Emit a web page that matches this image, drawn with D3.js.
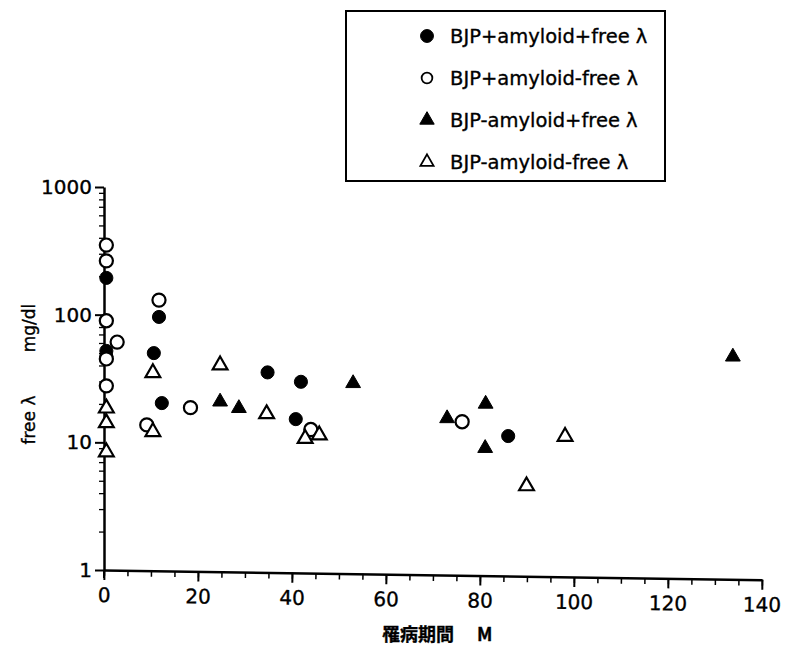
<!DOCTYPE html>
<html>
<head>
<meta charset="utf-8">
<script src="https://cdn.jsdelivr.net/npm/d3@7"></script>
<style>
  body { margin: 0; background: #fff; }
  text { font-family: "DejaVu Sans", "Liberation Sans", sans-serif; fill: #000; stroke: #000; stroke-width: 0.35px; }
</style>
</head>
<body>
<svg id="chart" width="789" height="650"></svg>
<script>
// series: x = 罹病期間 (M), y = free λ (mg/dl)
const seriesNames = ["BJP+amyloid+free λ", "BJP+amyloid-free λ", "BJP-amyloid+free λ", "BJP-amyloid-free λ"];

const fcX = [0.5, 0.5, 0.5, 11.7, 10.6, 12.3, 34.8, 41.9, 40.8, 86];
const fcY = [194, 52, 47, 96, 50, 20.3, 35.3, 29.8, 15.2, 11.2];

const ocX = [0.5, 0.5, 0.5, 2.8, 0.5, 0.5, 11.7, 9.1, 18.4, 44, 76.2];
const ocY = [351, 264, 89.6, 61, 45, 27.7, 130, 13.7, 18.7, 12.6, 14.5];

const ftX = [24.7, 28.7, 53, 73, 81.2, 81.1, 133.8];
const ftY = [20.8, 18.5, 29, 15.4, 20, 9.0, 46.8];

const otX = [0.5, 0.5, 0.5, 10.4, 10.4, 24.7, 34.6, 42.8, 45.8, 89.9, 98.1];
const otY = [18.5, 14.2, 8.4, 35, 12.1, 40.3, 16.7, 10.7, 11.4, 4.55, 11.1];

const xMajor = [0, 20, 40, 60, 80, 100, 120, 140];
const yMajor = [1, 10, 100, 1000];

const svg = d3.select("#chart");

const x = d3.scaleLinear().domain([0, 140]).range([104, 762]);
const y = d3.scaleLog().domain([1, 1000]).range([570, 187]);

// minor ticks
const xMinor = d3.range(0, 141, 5);
const yMinor = [];
[1, 10, 100].forEach(p => { for (let k = 2; k <= 9; k++) yMinor.push(p * k); });

// the printed x axis runs slightly downhill
const xTilt = `translate(0,${y(1)}) rotate(0.85,${x(0)},0)`;

svg.append("g")
  .attr("transform", xTilt)
  .call(d3.axisBottom(x).tickValues(xMinor).tickSize(6).tickFormat(""))
  .call(g => g.select(".domain").remove())
  .selectAll("line").attr("stroke-width", 1.5);

svg.append("g")
  .attr("transform", `translate(${x(0)},0)`)
  .call(d3.axisLeft(y).tickValues(yMinor).tickSize(5).tickFormat(""))
  .call(g => g.select(".domain").remove())
  .selectAll("line").attr("stroke-width", 1.3);

// major axes
const xAxis = svg.append("g")
  .attr("transform", xTilt)
  .call(d3.axisBottom(x).tickValues(xMajor).tickSize(10).tickSizeOuter(0).tickPadding(7));
xAxis.select(".domain").attr("stroke-width", 2.5);
xAxis.selectAll(".tick line").attr("stroke-width", 2);
xAxis.selectAll("text").style("font-size", "20px").attr("dy", "0.75em");

const yAxis = svg.append("g")
  .attr("transform", `translate(${x(0)},0)`)
  .call(d3.axisLeft(y).tickValues(yMajor).tickFormat(d3.format("d")).tickSize(9).tickSizeOuter(0).tickPadding(3));
yAxis.select(".domain").attr("stroke-width", 2.5);
yAxis.selectAll(".tick line").attr("stroke-width", 2);
yAxis.selectAll("text").style("font-size", "20px");

// y axis pokes a little below the x axis
svg.append("line")
  .attr("x1", x(0)).attr("x2", x(0))
  .attr("y1", y(1)).attr("y2", y(1) + 8)
  .attr("stroke", "#000").attr("stroke-width", 2);

// axis titles
const xTitle = svg.append("text")
  .attr("x", 382).attr("y", 641)
  .style("font-size", "18px").style("font-weight", "bold")
  .style("font-family", "'Noto Sans CJK JP', 'DejaVu Sans', sans-serif");
xTitle.append("tspan").text("罹病期間");
xTitle.append("tspan").attr("x", 477).text("M");

const yTitle = svg.append("text")
  .attr("transform", "translate(35,380) rotate(-90)")
  .attr("text-anchor", "middle")
  .style("font-size", "17px");
yTitle.append("tspan").attr("x", -40).text("free λ");
yTitle.append("tspan").attr("x", 52).text("mg/dl");

// markers
const circleSym = d3.symbol().type(d3.symbolCircle).size(135);
const triSym = d3.symbol().type(d3.symbolTriangle).size(95);

const series = [
  { xs: fcX, ys: fcY, sym: circleSym, filled: true },
  { xs: ocX, ys: ocY, sym: circleSym, filled: false },
  { xs: ftX, ys: ftY, sym: triSym, filled: true },
  { xs: otX, ys: otY, sym: triSym, filled: false }
];

series.forEach(s => {
  svg.append("g").selectAll("path")
    .data(s.xs.map((v, i) => [v, s.ys[i]]))
    .join("path")
    .attr("d", s.sym)
    .attr("transform", d => `translate(${x(d[0])},${y(d[1])})`)
    .attr("fill", s.filled ? "#000" : "#fff")
    .attr("stroke", "#000")
    .attr("stroke-width", s.filled ? 1 : 2.2);
});

// legend
const legend = svg.append("g");
legend.append("rect")
  .attr("x", 346).attr("y", 11).attr("width", 319).attr("height", 170)
  .attr("fill", "none").attr("stroke", "#000").attr("stroke-width", 2);

const legSym = [
  d3.symbol().type(d3.symbolCircle).size(130),
  d3.symbol().type(d3.symbolCircle).size(90),
  d3.symbol().type(d3.symbolTriangle).size(90),
  d3.symbol().type(d3.symbolTriangle).size(75)
];
seriesNames.forEach((name, i) => {
  const ly = 36 + i * 42;
  legend.append("path")
    .attr("d", legSym[i]())
    .attr("transform", `translate(427,${ly})`)
    .attr("fill", series[i].filled ? "#000" : "#fff")
    .attr("stroke", "#000")
    .attr("stroke-width", series[i].filled ? 1 : 1.8);
  legend.append("text")
    .attr("x", 450).attr("y", ly)
    .attr("dy", "0.35em")
    .style("font-size", "19.5px")
    .text(name);
});
</script>
</body>
</html>
